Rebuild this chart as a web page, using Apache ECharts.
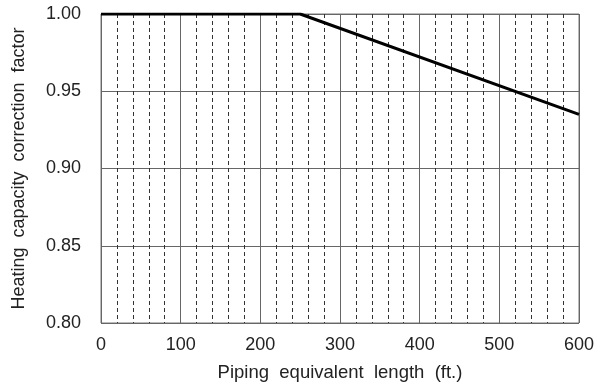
<!DOCTYPE html>
<html><head><meta charset="utf-8">
<script src="https://cdn.jsdelivr.net/npm/echarts@6/dist/echarts.min.js"></script>
<style>html,body{margin:0;padding:0;background:#fff}#c{width:610px;height:389px}</style>
</head><body><div id="c"></div>
<script>
const lengthsFt = [0, 250, 600];
const correctionFactor = [1.0, 1.0, 0.935];
const xTicks = [0, 100, 200, 300, 400, 500, 600];
const yTicks = [0.80, 0.85, 0.90, 0.95, 1.00];

const chart = echarts.init(document.getElementById('c'));
const font = 'Liberation Sans, Arial, sans-serif';
chart.setOption({
  animation: false,
  grid: {left: 101, right: 31, top: 14, bottom: 66, show: true, borderColor: '#777', borderWidth: 1},
  xAxis: {
    type: 'value', min: xTicks[0], max: xTicks[xTicks.length-1], interval: 100,
    name: 'Piping  equivalent  length  (ft.)', nameLocation: 'middle', nameGap: 40,
    nameTextStyle: {fontFamily: font, fontSize: 18.5, color: '#222'},
    axisLine: {show: false}, axisTick: {show: false},
    axisLabel: {fontFamily: font, fontSize: 18, color: '#222', margin: 13},
    splitLine: {show: true, lineStyle: {color: '#666', width: 1}},
    minorTick: {show: false, splitNumber: 5},
    minorSplitLine: {show: true, lineStyle: {color: '#333', width: 1, type: [4, 3]}}
  },
  yAxis: {
    type: 'value', min: yTicks[0], max: yTicks[yTicks.length-1], interval: 0.05,
    name: 'Heating  capacity  correction  factor', nameLocation: 'middle', nameGap: 73,
    nameTextStyle: {fontFamily: font, fontSize: 18, color: '#222'},
    axisLine: {show: false}, axisTick: {show: false},
    axisLabel: {fontFamily: font, fontSize: 18, color: '#222', margin: 20,
      formatter: v => v.toFixed(2)},
    splitLine: {show: true, lineStyle: {color: '#666', width: 1}}
  },
  series: [{
    type: 'line', showSymbol: false, symbol: 'none',
    data: lengthsFt.map((x, i) => [x, correctionFactor[i]]),
    lineStyle: {color: '#000', width: 3}
  }]
});
</script></body></html>
